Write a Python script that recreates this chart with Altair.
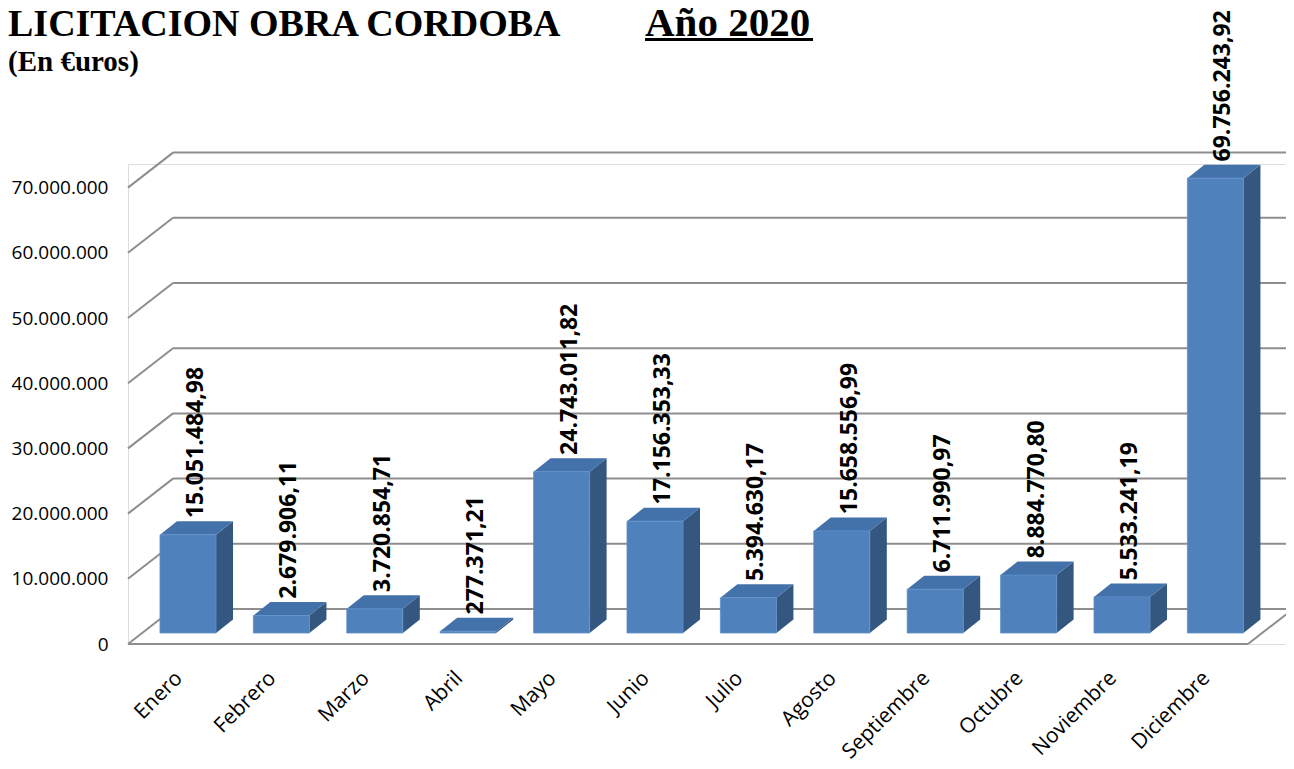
import altair as alt
import pandas as pd

# ---------------- data ----------------
MONTHS = ["Enero", "Febrero", "Marzo", "Abril", "Mayo", "Junio", "Julio",
          "Agosto", "Septiembre", "Octubre", "Noviembre", "Diciembre"]
VALUES = [15051484.98, 2679906.11, 3720854.71, 277371.21, 24743011.82,
          17156353.33, 5394630.17, 15658556.99, 6711990.97, 8884770.80,
          5533241.19, 69756243.92]
Y_TICKS = [0, 10000000, 20000000, 30000000, 40000000, 50000000, 60000000, 70000000]


def es_fmt(v):
    s = f"{v:,.2f}"
    return s.replace(",", "X").replace(".", ",").replace("X", ".")


LABELS = [es_fmt(v) for v in VALUES]

# ---------------- 3D geometry (category units / value units) ----------------
HALF = 0.30        # half bar width
DX = 0.182         # bar depth, horizontal
DY = 2.07e6        # bar depth, vertical
FRONT = 1.687e6    # floor front edge below zero
BACK = 3.681e6     # back wall above zero
WALL_DX = 0.482    # full depth of floor, horizontal
X0 = -0.6424       # floor front-left
X1 = 11.349        # floor front-right
XMAX = 11.7559

FRONT_C = "#4f81bd"
TOP_C = "#4371aa"
SIDE_C = "#34577f"
GRID_C = "#8e8e8e"

xs = alt.Scale(domain=[X0, XMAX], nice=False, zero=False)
ys = alt.Scale(domain=[-FRONT, 71.933e6], nice=False, zero=False)

n = len(MONTHS)
bars = pd.DataFrame({
    "i": list(range(n)),
    "month": MONTHS,
    "v": VALUES,
    "label": LABELS,
})
bars["xl"] = bars["i"] - HALF
bars["xr"] = bars["i"] + HALF
bars["base"] = 0.0
bars["lx"] = bars["i"] + 0.085
bars["ly"] = bars["v"] + DY + 0.5e6

side_rows = []
top_rows = []
for i, v in enumerate(VALUES):
    side_rows.append({"i": i, "x": i + HALF, "lo": 0.0, "hi": v})
    side_rows.append({"i": i, "x": i + HALF + DX, "lo": DY, "hi": v + DY})
    top_rows.append({"i": i, "y": v, "xa": i - HALF, "xb": i + HALF})
    top_rows.append({"i": i, "y": v + DY, "xa": i - HALF + DX, "xb": i + HALF + DX})
side = pd.DataFrame(side_rows)
top = pd.DataFrame(top_rows)

grid_rows = []
for t in Y_TICKS:
    grid_rows.append({"x": X0 + WALL_DX, "x2": XMAX + 0.2, "y": t + BACK, "y2": t + BACK})
    grid_rows.append({"x": X0, "x2": X0 + WALL_DX, "y": t - FRONT, "y2": t + BACK})
grid_rows.append({"x": X0, "x2": X1, "y": -FRONT, "y2": -FRONT})
grid_rows.append({"x": X1, "x2": X1 + WALL_DX, "y": -FRONT, "y2": BACK})
grid = pd.DataFrame(grid_rows)

months_js = "[" + ",".join(f"'{m}'" for m in MONTHS) + "]"

x_axis = alt.Axis(values=list(range(n)), labelExpr=f"{months_js}[datum.value]",
                  labelAngle=-45, labelAlign="right", labelBaseline="top",
                  labelFont="Open Sans", labelFontSize=21, labelColor="#000000",
                  labelPadding=23, labelOffset=-17, domain=False, ticks=False,
                  grid=False, title=None, labelOverlap=False, labelBound=False,
                  labelFlush=False)
y_axis = alt.Axis(values=Y_TICKS,
                  labelExpr="replace(format(datum.value, ',.0f'), regexp(',', 'g'), '.')",
                  labelFont="Open Sans", labelFontSize=19, labelColor="#000000",
                  labelPadding=20, labelOffset=11, domain=False, ticks=False,
                  grid=False, title=None, labelOverlap=False, labelFlush=False)

gridlines = alt.Chart(grid).mark_rule(color=GRID_C, strokeWidth=2).encode(
    x=alt.X("x:Q", scale=xs, axis=x_axis),
    x2="x2:Q",
    y=alt.Y("y:Q", scale=ys, axis=y_axis),
    y2="y2:Q",
)

side_faces = alt.Chart(side).mark_area(color=SIDE_C, opacity=1).encode(
    x=alt.X("x:Q", scale=xs, axis=x_axis),
    y=alt.Y("hi:Q", scale=ys, axis=y_axis),
    y2="lo:Q",
    detail="i:N",
)

top_faces = alt.Chart(top).mark_area(color=TOP_C, opacity=1, orient="horizontal").encode(
    y=alt.Y("y:Q", scale=ys, axis=y_axis),
    x=alt.X("xa:Q", scale=xs, axis=x_axis),
    x2="xb:Q",
    detail="i:N",
)

front_faces = alt.Chart(bars).mark_rect(color=FRONT_C, stroke="#5f90cc", strokeWidth=0.8).encode(
    x=alt.X("xl:Q", scale=xs, axis=x_axis),
    x2="xr:Q",
    y=alt.Y("v:Q", scale=ys, axis=y_axis),
    y2="base:Q",
)

value_labels = alt.Chart(bars).mark_text(
    angle=270, align="left", baseline="middle", font="Open Sans",
    fontSize=23, fontWeight="bold", color="#000000",
).encode(
    x=alt.X("lx:Q", scale=xs, axis=x_axis),
    y=alt.Y("ly:Q", scale=ys, axis=y_axis),
    text="label:N",
)

title_df = pd.DataFrame({"t": ["LICITACION OBRA CORDOBA"]})
title1 = alt.Chart(title_df).mark_text(
    align="left", baseline="alphabetic", font="Liberation Serif",
    fontSize=38, fontWeight="bold", color="#000000",
).encode(x=alt.value(-120), y=alt.value(-128), text="t:N")

title2_df = pd.DataFrame({"t": ["Año 2020"]})
title2 = alt.Chart(title2_df).mark_text(
    align="left", baseline="alphabetic", font="Liberation Serif",
    fontSize=41, fontWeight="bold", color="#000000",
).encode(x=alt.value(517), y=alt.value(-128), text="t:N")

underline = alt.Chart(title2_df).mark_rule(color="#000000", strokeWidth=3).encode(
    x=alt.value(517), x2=alt.value(685), y=alt.value(-124.5)
)

sub_df = pd.DataFrame({"t": ["(En €uros)"]})
subtitle = alt.Chart(sub_df).mark_text(
    align="left", baseline="alphabetic", font="Liberation Serif",
    fontSize=29, fontWeight="bold", color="#000000",
).encode(x=alt.value(-120), y=alt.value(-93), text="t:N")

chart = alt.layer(
    gridlines, side_faces, top_faces, front_faces, value_labels,
    title1, title2, underline, subtitle,
).properties(
    width=1158, height=480,
    padding={"left": 120, "top": 156, "right": 0, "bottom": 117},
    autosize=alt.AutoSizeParams(type="none"),
).configure_view(stroke=None).configure(background="white")

chart.save("out.html", embed_options={"renderer": "svg", "actions": False})
